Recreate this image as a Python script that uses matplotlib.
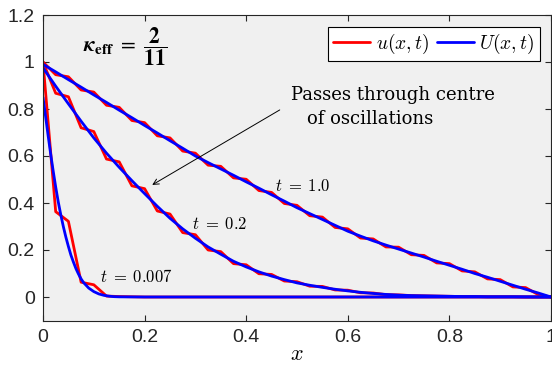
import numpy as np
import matplotlib
matplotlib.use("Agg")
import matplotlib.pyplot as plt

# ---------------- data ----------------
x_nodes = np.linspace(0, 1, 41)

u_t1 = [1.0, 0.946, 0.937, 0.881, 0.872, 0.816, 0.807, 0.751, 0.742, 0.686,
        0.677, 0.621, 0.612, 0.561, 0.556, 0.507, 0.501, 0.453, 0.445, 0.398,
        0.39, 0.346, 0.34, 0.296, 0.29, 0.251, 0.247, 0.213, 0.212, 0.18,
        0.177, 0.145, 0.142, 0.111, 0.107, 0.077, 0.074, 0.043, 0.04, 0.01, 0.0]
U_t1 = [0.99, 0.958, 0.925, 0.893, 0.86, 0.828, 0.795, 0.763, 0.73, 0.698,
        0.665, 0.633, 0.60, 0.572, 0.545, 0.518, 0.49, 0.463, 0.435, 0.408,
        0.38, 0.355, 0.33, 0.305, 0.28, 0.259, 0.239, 0.221, 0.204, 0.187,
        0.17, 0.152, 0.135, 0.118, 0.10, 0.084, 0.067, 0.05, 0.033, 0.017, 0.0]

u_t02 = [1.0, 0.867, 0.852, 0.72, 0.704, 0.587, 0.575, 0.473, 0.461, 0.366,
         0.353, 0.274, 0.265, 0.2, 0.193, 0.142, 0.137, 0.099, 0.096, 0.068,
         0.065, 0.046, 0.045, 0.030, 0.029, 0.018, 0.017, 0.010, 0.009, 0.006,
         0.005, 0.004, 0.003, 0.002, 0.002, 0.001, 0.001, 0.001, 0.0, 0.0, 0.0]
U_t02 = [0.975, 0.897, 0.822, 0.748, 0.677, 0.612, 0.552, 0.495, 0.44, 0.386,
         0.335, 0.29, 0.25, 0.213, 0.182, 0.152, 0.128, 0.107, 0.089, 0.074,
         0.06, 0.05, 0.041, 0.033, 0.026, 0.02, 0.015, 0.011, 0.008, 0.006,
         0.005, 0.004, 0.003, 0.002, 0.002, 0.001, 0.001, 0.001, 0.0005, 0.0, 0.0]

u_t0007 = [1.0, 0.363, 0.322, 0.063, 0.052, 0.004, 0.002, 0.001] + [0.0] * 33

x_fine = [0, 0.005, 0.01, 0.015, 0.02, 0.025, 0.03, 0.035, 0.04, 0.045, 0.05,
          0.055, 0.06, 0.065, 0.07, 0.075, 0.08, 0.09, 0.1, 0.11, 0.12, 0.13,
          0.14, 0.15, 0.2, 0.3, 1.0]
U_t0007 = [0.85, 0.77, 0.688, 0.61, 0.537, 0.468, 0.405, 0.35, 0.30, 0.255,
           0.215, 0.178, 0.148, 0.12, 0.097, 0.077, 0.061, 0.038, 0.023, 0.013,
           0.007, 0.0035, 0.0015, 0.0007, 0.0, 0.0, 0.0]

xticks = [0, 0.2, 0.4, 0.6, 0.8, 1.0]
xticklabels = ["0", "0.2", "0.4", "0.6", "0.8", "1"]
yticks = [0, 0.2, 0.4, 0.6, 0.8, 1.0, 1.2]
yticklabels = ["0", "0.2", "0.4", "0.6", "0.8", "1", "1.2"]

# ---------------- figure ----------------
plt.rcParams['mathtext.fontset'] = 'cm'
plt.rcParams['font.family'] = ['Liberation Sans', 'DejaVu Sans']

fig = plt.figure(figsize=(5.52, 3.67), dpi=100)
ax = fig.add_axes([43 / 552, 1 - 320.5 / 367, (551 - 43) / 552, (320.5 - 15) / 367])
ax.set_facecolor('#f0f0f0')

red_kw = dict(color='#ff0000', lw=2.0, solid_joinstyle='round', solid_capstyle='round')
blue_kw = dict(color='#0000ff', lw=2.0, solid_joinstyle='round', solid_capstyle='round')

ax.plot(x_nodes, u_t1, label=r'$u(x,t)$', **red_kw)
ax.plot(x_nodes, u_t02, **red_kw)
ax.plot(x_nodes, u_t0007, **red_kw)
ax.plot(x_nodes, U_t1, label=r'$U(x,t)$', **blue_kw)
ax.plot(x_nodes, U_t02, **blue_kw)
ax.plot(x_fine, U_t0007, **blue_kw)

ax.set_xlim(0, 1)
ax.set_ylim(-0.1, 1.2)
ax.set_xticks(xticks)
ax.set_xticklabels(xticklabels)
ax.set_yticks(yticks)
ax.set_yticklabels(yticklabels)
ax.tick_params(direction='in', length=4, width=0.8, colors='#262626',
               labelsize=14, top=True, right=True, pad=6)
for s in ax.spines.values():
    s.set_color('#262626')
    s.set_linewidth(0.8)

ax.set_xlabel(r'$x$', fontsize=16, labelpad=-1)

ax.text(0.078, 1.064,
        r'$\boldsymbol{\kappa}_{\mathbf{eff}}\ =\ \dfrac{\boldsymbol{2}}{\boldsymbol{11}}$',
        fontsize=15.5, va='center', ha='left', math_fontfamily='stix')

ax.text(0.457, 0.472, r'$t\;=\;1.0$', fontsize=12, va='center', ha='left')
ax.text(0.294, 0.31, r'$t\;=\;0.2$', fontsize=12, va='center', ha='left')
ax.text(0.112, 0.087, r'$t\;=\;0.007$', fontsize=12, va='center', ha='left')

ax.annotate('', xy=(0.215, 0.477), xytext=(0.466, 0.796),
            arrowprops=dict(arrowstyle='->', color='black', lw=0.7,
                            shrinkA=0, shrinkB=0))
ax.text(0.488, 0.838, 'Passes through centre', fontsize=13,
        family='DejaVu Serif', va='baseline', ha='left')
ax.text(0.52, 0.736, 'of oscillations', fontsize=13,
        family='DejaVu Serif', va='baseline', ha='left')

leg = ax.legend(loc='upper right', bbox_to_anchor=(0.978, 0.961), ncol=2,
                fontsize=14, handlelength=1.9, handletextpad=0.3,
                columnspacing=0.4, borderaxespad=0, borderpad=0.25,
                fancybox=False, framealpha=1, edgecolor='black')
leg.get_frame().set_linewidth(0.8)

fig.savefig('out.png', dpi=100)
